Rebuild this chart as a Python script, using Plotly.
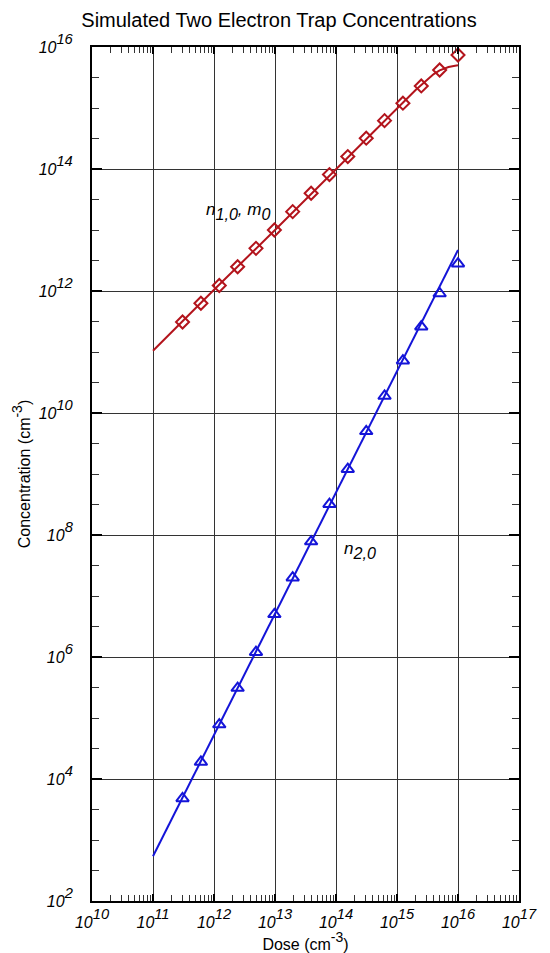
import plotly.graph_objects as go

# ---- data ----
dose = [3.05e11, 6.1e11, 1.22e12, 2.44e12, 4.88e12, 9.77e12, 1.95e13, 3.91e13,
        7.81e13, 1.56e14, 3.13e14, 6.25e14, 1.25e15, 2.5e15, 5.0e15, 1.0e16]
n1_points = [3.1e11, 6.3e11, 1.23e12, 2.5e12, 5.0e12, 1.0e13, 2.0e13, 4.0e13,
             8.1e13, 1.6e14, 3.2e14, 6.2e14, 1.2e15, 2.3e15, 4.2e15, 7.4e15]
n2_points = [4.8e3, 1.9e4, 7.8e4, 3.1e5, 1.2e6, 5.0e6, 2.0e7, 7.8e7,
             3.2e8, 1.2e9, 5.0e9, 1.9e10, 7.2e10, 2.6e11, 9.1e11, 2.8e12]

n1_line_dose = [1e11, 1e12, 1e13, 1e14, 1e15, 2e15, 3e15, 4e15, 5e15, 6e15, 7e15, 8.5e15, 1e16]
n1_line = [1.05e11, 1.05e12, 1.0e13, 1.0e14, 1.0e15, 1.95e15, 2.8e15, 3.6e15, 4.15e15,
           4.5e15, 4.7e15, 4.9e15, 5.0e15]
n2_line_dose = [1e11, 1e16]
n2_line = [5.4e2, 4.7e12]

x_decades = list(range(10, 18))
y_decades = list(range(2, 17, 2))
title = "Simulated Two Electron Trap Concentrations"
xlabel = "Dose (cm<span style='font-size:20px'><sup>-3</sup></span>)"
ylabel = "Concentration (cm<span style='font-size:20px'><sup>-3</sup></span>)"

RED = "#b3141c"
BLUE = "#1414d8"
FONT = "Liberation Sans, Arial, Helvetica, sans-serif"

def pow_label(e):
    return "<i>10<span style='font-size:21px'><sup>%d</sup></span></i>" % e

fig = go.Figure()
fig.add_trace(go.Scatter(x=n1_line_dose, y=n1_line, mode="lines",
                         line=dict(color=RED, width=2), showlegend=False))
fig.add_trace(go.Scatter(x=dose, y=n1_points, mode="markers",
                         marker=dict(symbol="diamond-open", size=10, color=RED,
                                     line=dict(width=2, color=RED)), showlegend=False))
fig.add_trace(go.Scatter(x=n2_line_dose, y=n2_line, mode="lines",
                         line=dict(color=BLUE, width=2), showlegend=False))
fig.add_trace(go.Scatter(x=dose, y=n2_points, mode="markers",
                         marker=dict(symbol="triangle-up-open", size=11, color=BLUE,
                                     line=dict(width=2, color=BLUE)), showlegend=False))

x_minor = [k * 10 ** e for e in range(10, 17) for k in range(2, 10)]
y_minor = []
for e in range(2, 16):
    y_minor.append(10 ** (e + 0.5))
    if e % 2 == 0:
        y_minor.append(10 ** (e + 1))

SUB = "<span style='font-size:23px'><sub>%s</sub></span>"
fig.add_annotation(x=12.39, y=13.30,
                   text="<i>n" + SUB % "1,0" + ", m" + SUB % "0" + "</i>",
                   showarrow=False, font=dict(size=17, color="black", family=FONT))
fig.add_annotation(x=14.39, y=7.75, text="<i>n" + SUB % "2,0" + "</i>",
                   showarrow=False, font=dict(size=17, color="black", family=FONT))

fig.update_layout(
    width=542, height=945,
    margin=dict(l=84, r=31, t=39, b=52, autoexpand=False),
    paper_bgcolor="white", plot_bgcolor="white",
    font=dict(family=FONT, color="black"),
    title=dict(text=title, x=0.5, xanchor="center", y=0.9870, yanchor="middle",
               font=dict(size=20, color="black", family=FONT)),
    xaxis=dict(type="log", range=[10, 17], automargin=False,
               tickvals=[10 ** e for e in x_decades],
               ticktext=[pow_label(e) for e in x_decades],
               ticks="inside", ticklen=7, tickwidth=1.5, tickcolor="black",
               showgrid=True, gridcolor="#333333", gridwidth=1.3,
               showline=True, linecolor="black", linewidth=2, mirror="allticks",
               zeroline=False, ticklabelstandoff=6,
               tickfont=dict(size=16, family=FONT, color="black"),
               minor=dict(tickvals=x_minor, ticks="inside", ticklen=6,
                          tickwidth=1, tickcolor="#333333", showgrid=False),
               title=dict(text=xlabel, font=dict(size=16, family=FONT), standoff=2)),
    yaxis=dict(type="log", range=[2, 16], automargin=False,
               tickvals=[10 ** e for e in y_decades],
               ticktext=[pow_label(e) for e in y_decades],
               ticks="inside", ticklen=10, tickwidth=1.5, tickcolor="black",
               showgrid=True, gridcolor="#333333", gridwidth=1.3,
               showline=True, linecolor="black", linewidth=2, mirror="allticks",
               zeroline=False, ticklabelstandoff=14,
               tickfont=dict(size=16, family=FONT, color="black"),
               minor=dict(tickvals=y_minor, ticks="inside", ticklen=7,
                          tickwidth=1, tickcolor="#333333", showgrid=False),
               title=dict(text=ylabel, font=dict(size=16, family=FONT), standoff=4)),
)

fig.write_html("out.html")
